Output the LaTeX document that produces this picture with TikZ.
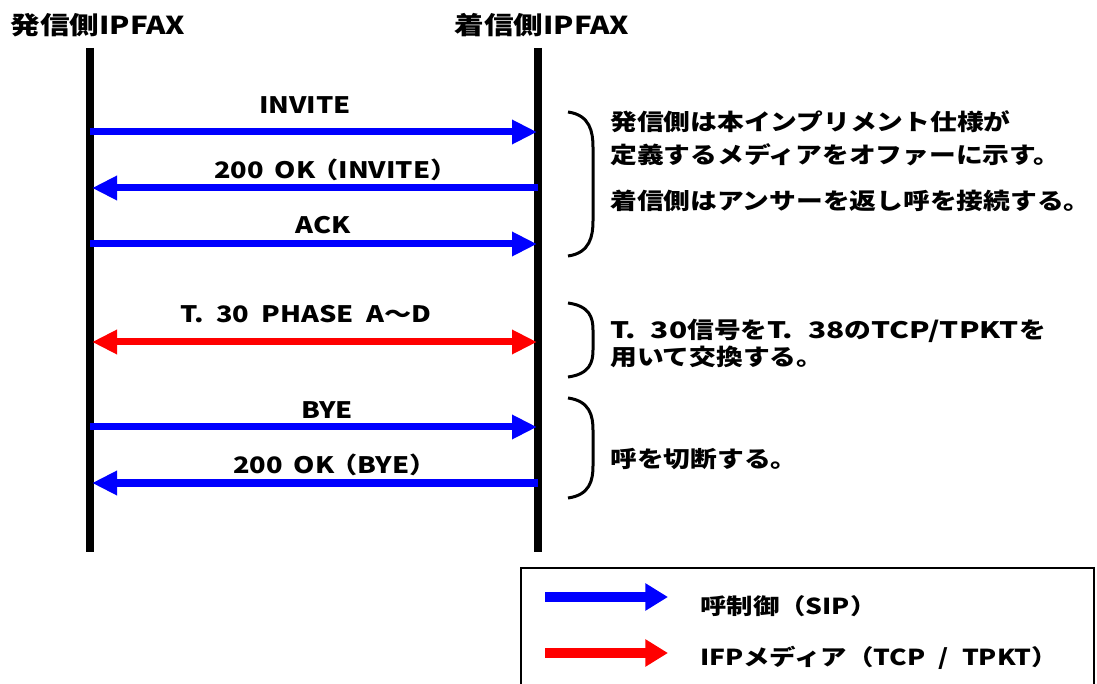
\documentclass[tikz,border=0pt]{standalone}
\usepackage{fontspec}
\usepackage{graphicx}
\setmainfont{Noto Sans CJK JP}
\usetikzlibrary{arrows.meta}
\newcommand{\sx}[1]{\scalebox{1.2}[1]{#1}}
\newcommand{\sn}[1]{\scalebox{1.18}[1]{#1}}
\newcommand{\snl}[1]{\scalebox{1.32}[1]{#1}}
\definecolor{sipblue}{RGB}{0,0,255}
\definecolor{medred}{RGB}{255,0,0}
\begin{document}
\begin{tikzpicture}[x=0.75pt,y=-0.75pt,
  lifeline/.style={line width=6pt,black},
  msg/.style={line width=5.25pt,-{Triangle[length=18.75pt,width=17.25pt]}},
  dmsg/.style={line width=5.25pt,{Triangle[length=18.75pt,width=17.25pt]}-{Triangle[length=18.75pt,width=17.25pt]}},
  legarrow/.style={line width=7.5pt,-{Triangle[length=17pt,width=19.5pt]}},
  hdr/.style={font=\fontsize{18.5}{22}\selectfont\bfseries,inner sep=0pt},
  lbl/.style={font=\fontsize{17}{20}\selectfont\bfseries,inner sep=0pt},
  note/.style={font=\fontsize{17}{20}\selectfont\bfseries,inner sep=0pt,anchor=west},
  legtext/.style={font=\fontsize{16.5}{20}\selectfont\bfseries,inner sep=0pt,anchor=west},
  brace/.style={line width=2.25pt,black},
]
\useasboundingbox (0,0) rectangle (1097,684);
\fill[white] (0,0) rectangle (1097,684);
\begin{scope}
\clip (0,0) rectangle (1097,684);

% headers
\node[hdr] (h1) at (98,25) {\sx{発信側IPFAX}};
\node[hdr] (h2) at (542,25) {\sx{着信側IPFAX}};

% lifelines
\coordinate (Ltop) at (90,48);
\coordinate (Lbot) at (90,552);
\coordinate (Rtop) at (538,48);
\coordinate (Rbot) at (538,552);
\draw[lifeline] (Ltop) -- (Lbot);
\draw[lifeline] (Rtop) -- (Rbot);

% message endpoints
\coordinate (L1) at (90,132);  \coordinate (R1) at (537,132);
\coordinate (L2) at (92,188);  \coordinate (R2) at (538,188);
\coordinate (L3) at (90,244);  \coordinate (R3) at (537,244);
\coordinate (L4) at (92,342);  \coordinate (R4) at (537,342);
\coordinate (L5) at (90,427);  \coordinate (R5) at (537,427);
\coordinate (L6) at (92,483);  \coordinate (R6) at (538,483);

\draw[msg,sipblue] (L1) -- (R1);
\draw[msg,sipblue] (R2) -- (L2);
\draw[msg,sipblue] (L3) -- (R3);
\draw[dmsg,medred] (L4) -- (R4);
\draw[msg,sipblue] (L5) -- (R5);
\draw[msg,sipblue] (R6) -- (L6);

% labels
\node[lbl] (t1) at (305,105) {\sx{INVITE}};
\node[lbl] (t2) at (336,170) {\sx{200\hspace{0.4em}OK\hspace{-0.15em}（INVITE）}};
\node[lbl] (t3) at (323,225) {\sx{ACK}};
\node[lbl] (t4) at (306,314) {\sx{T.\hspace{0.45em}30\hspace{0.45em}PHASE\hspace{0.45em}A～D}};
\node[lbl] (t5) at (327,410) {\sx{BYE}};
\node[lbl] (t6) at (335,465) {\sx{200\hspace{0.4em}OK\hspace{-0.15em}（BYE）}};

% braces
\draw[brace] (568,112) .. controls (590,115) and (593,132) .. (593,147) -- (593,221) .. controls (593,236) and (590,253) .. (568,256);
\draw[brace] (568,303) .. controls (590,306) and (593,318) .. (593,330) -- (593,350) .. controls (593,362) and (590,374) .. (568,377);
\draw[brace] (568,398) .. controls (590,401) and (593,416) .. (593,430) -- (593,466) .. controls (593,480) and (590,495) .. (568,498);

% notes
\node[note] (n1) at (610,122) {\sn{発信側は本インプリメント仕様が}};
\node[note] (n2) at (610,155) {\sn{定義するメディアをオファーに示す。}};
\node[note] (n3) at (610,201) {\sn{着信側はアンサーを返し呼を接続する。}};
\node[note] (n4) at (610,331) {\snl{T.\hspace{0.5em}30}\sn{信号を}\snl{T.\hspace{0.5em}38}\sn{の}\snl{TCP/TPKT}\sn{を}};
\node[note] (n5) at (610,357) {\sn{用いて交換する。}};
\node[note] (n6) at (610,459) {\sn{呼を切断する。}};

% legend
\draw[line width=1.5pt,black] (521,568) rectangle (1094,720);
\coordinate (gb1) at (545,597); \coordinate (gb2) at (668,597);
\coordinate (gr1) at (545,653); \coordinate (gr2) at (668,653);
\draw[legarrow,sipblue] (gb1) -- (gb2);
\draw[legarrow,medred] (gr1) -- (gr2);
\node[legtext] (lg1) at (700,606) {\sx{呼制御（SIP）}};
\node[legtext] (lg2) at (700,658) {\sx{IFPメディア（TCP\hspace{0.5em}/\hspace{0.5em}TPKT）}};
\end{scope}
\end{tikzpicture}
\end{document}
